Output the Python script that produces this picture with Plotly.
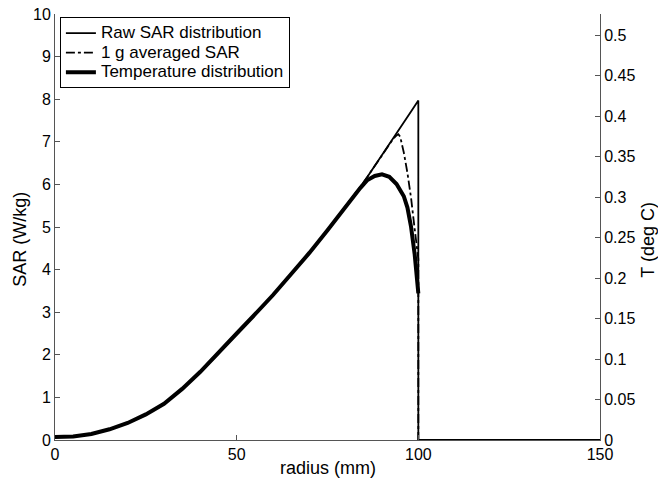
import plotly.graph_objects as go

# radius grid (mm)
radius = [0, 5, 10, 15, 20, 25, 30, 35, 40, 45, 50, 55, 60, 65, 70, 75, 80,
          82, 84, 86, 88, 90, 92, 93, 94, 94.5, 95, 96, 97, 98, 99, 100]

# Raw SAR (W/kg)
raw_sar = [0.07, 0.08, 0.14, 0.25, 0.40, 0.60, 0.85, 1.20, 1.60, 2.03, 2.50, 2.95,
           3.40, 3.90, 4.40, 4.93, 5.48, 5.71, 5.94, 6.18, 6.43, 6.68, 6.93, 7.06,
           7.19, 7.25, 7.32, 7.45, 7.58, 7.71, 7.84, 7.97]
raw_r_tail = [100, 150]
raw_sar_tail = [0, 0]

# 1 g averaged SAR (W/kg)
avg_r = [0, 5, 10, 15, 20, 25, 30, 35, 40, 45, 50, 55, 60, 65, 70, 75, 80,
         82, 84, 86, 88, 90, 92, 93, 94, 94.5, 95, 96, 97, 98, 99, 99.5, 100, 100]
avg_sar = [0.07, 0.08, 0.14, 0.25, 0.40, 0.60, 0.85, 1.20, 1.60, 2.03, 2.50, 2.95,
           3.40, 3.90, 4.40, 4.93, 5.48, 5.71, 5.94, 6.18, 6.43, 6.68, 6.93, 7.06,
           7.15, 7.18, 7.12, 6.75, 6.27, 5.68, 4.95, 4.55, 4.25, 0]

# Temperature (deg C)
temp_r = [0, 5, 10, 15, 20, 25, 30, 35, 40, 45, 50, 55, 60, 65, 70, 75, 80,
          82, 84, 86, 88, 90, 92, 94, 96, 97, 98, 99, 100]
temp = [0.0037, 0.0042, 0.0074, 0.0132, 0.021, 0.0316, 0.0447, 0.0631, 0.0842,
        0.107, 0.1315, 0.155, 0.179, 0.205, 0.231, 0.259, 0.288, 0.300, 0.311,
        0.321, 0.326, 0.328, 0.325, 0.316, 0.301, 0.287, 0.263, 0.229, 0.181]

series_names = ["Raw SAR distribution", "1 g averaged SAR", "Temperature distribution"]

x_ticks = [0, 50, 100, 150]
sar_ticks = [0, 1, 2, 3, 4, 5, 6, 7, 8, 9, 10]
t_ticks = [0, 0.05, 0.1, 0.15, 0.2, 0.25, 0.3, 0.35, 0.4, 0.45, 0.5]

family = "Liberation Sans, Arial, sans-serif"
tick_font = dict(family=family, size=16, color="black")
title_font = dict(family=family, size=18, color="black")
legend_font = dict(family=family, size=12.7, color="black")


def legend_label(name):
    # larger visible text while keeping compact legend rows
    return "<span style='font-size:17px'>" + name + "</span>"


fig = go.Figure()
fig.add_trace(go.Scatter(x=radius + raw_r_tail, y=raw_sar + raw_sar_tail, mode="lines",
                         name=legend_label(series_names[0]),
                         line=dict(color="black", width=1.8)))
fig.add_trace(go.Scatter(x=avg_r, y=avg_sar, mode="lines",
                         name=legend_label(series_names[1]),
                         line=dict(color="black", width=1.8, dash="dashdot")))
fig.add_trace(go.Scatter(x=temp_r, y=temp, mode="lines",
                         name=legend_label(series_names[2]),
                         line=dict(color="black", width=4), yaxis="y2"))

axis_common = dict(showgrid=False, zeroline=False, showline=True, linecolor="#555",
                   linewidth=1, ticks="inside", ticklen=5, tickcolor="#555",
                   tickfont=tick_font, automargin=False, ticklabeloverflow="allow")

# page body has an 8px margin, so the figure is sized/offset to compensate
fig.update_layout(
    width=658, height=476,
    margin=dict(l=47, r=66, t=6, b=44),
    paper_bgcolor="white", plot_bgcolor="white",
    font=tick_font,
    xaxis=dict(range=[0, 150], tickvals=x_ticks, **axis_common),
    yaxis=dict(range=[0, 10], tickvals=sar_ticks, **axis_common),
    yaxis2=dict(range=[0, 0.526], tickvals=t_ticks, overlaying="y", side="right",
                **axis_common),
    legend=dict(x=0.009, y=0.992, xanchor="left", yanchor="top",
                bgcolor="white", bordercolor="black", borderwidth=1,
                font=legend_font, tracegroupgap=0, itemwidth=30),
    showlegend=True,
    annotations=[
        dict(text="radius (mm)", xref="paper", yref="paper", x=0.5, y=-0.0,
             yshift=-28, xanchor="center", yanchor="middle", showarrow=False,
             font=title_font),
        dict(text="SAR (W/kg)", xref="paper", x=-0.0, xshift=-35, yref="paper",
             y=0.47, xanchor="center", yanchor="middle", textangle=-90,
             showarrow=False, font=title_font),
        dict(text="T (deg C)", xref="paper", x=1.0, xshift=48, yref="paper",
             y=0.47, xanchor="center", yanchor="middle", textangle=-90,
             showarrow=False, font=title_font),
    ],
)

fig.write_html("out.html")
